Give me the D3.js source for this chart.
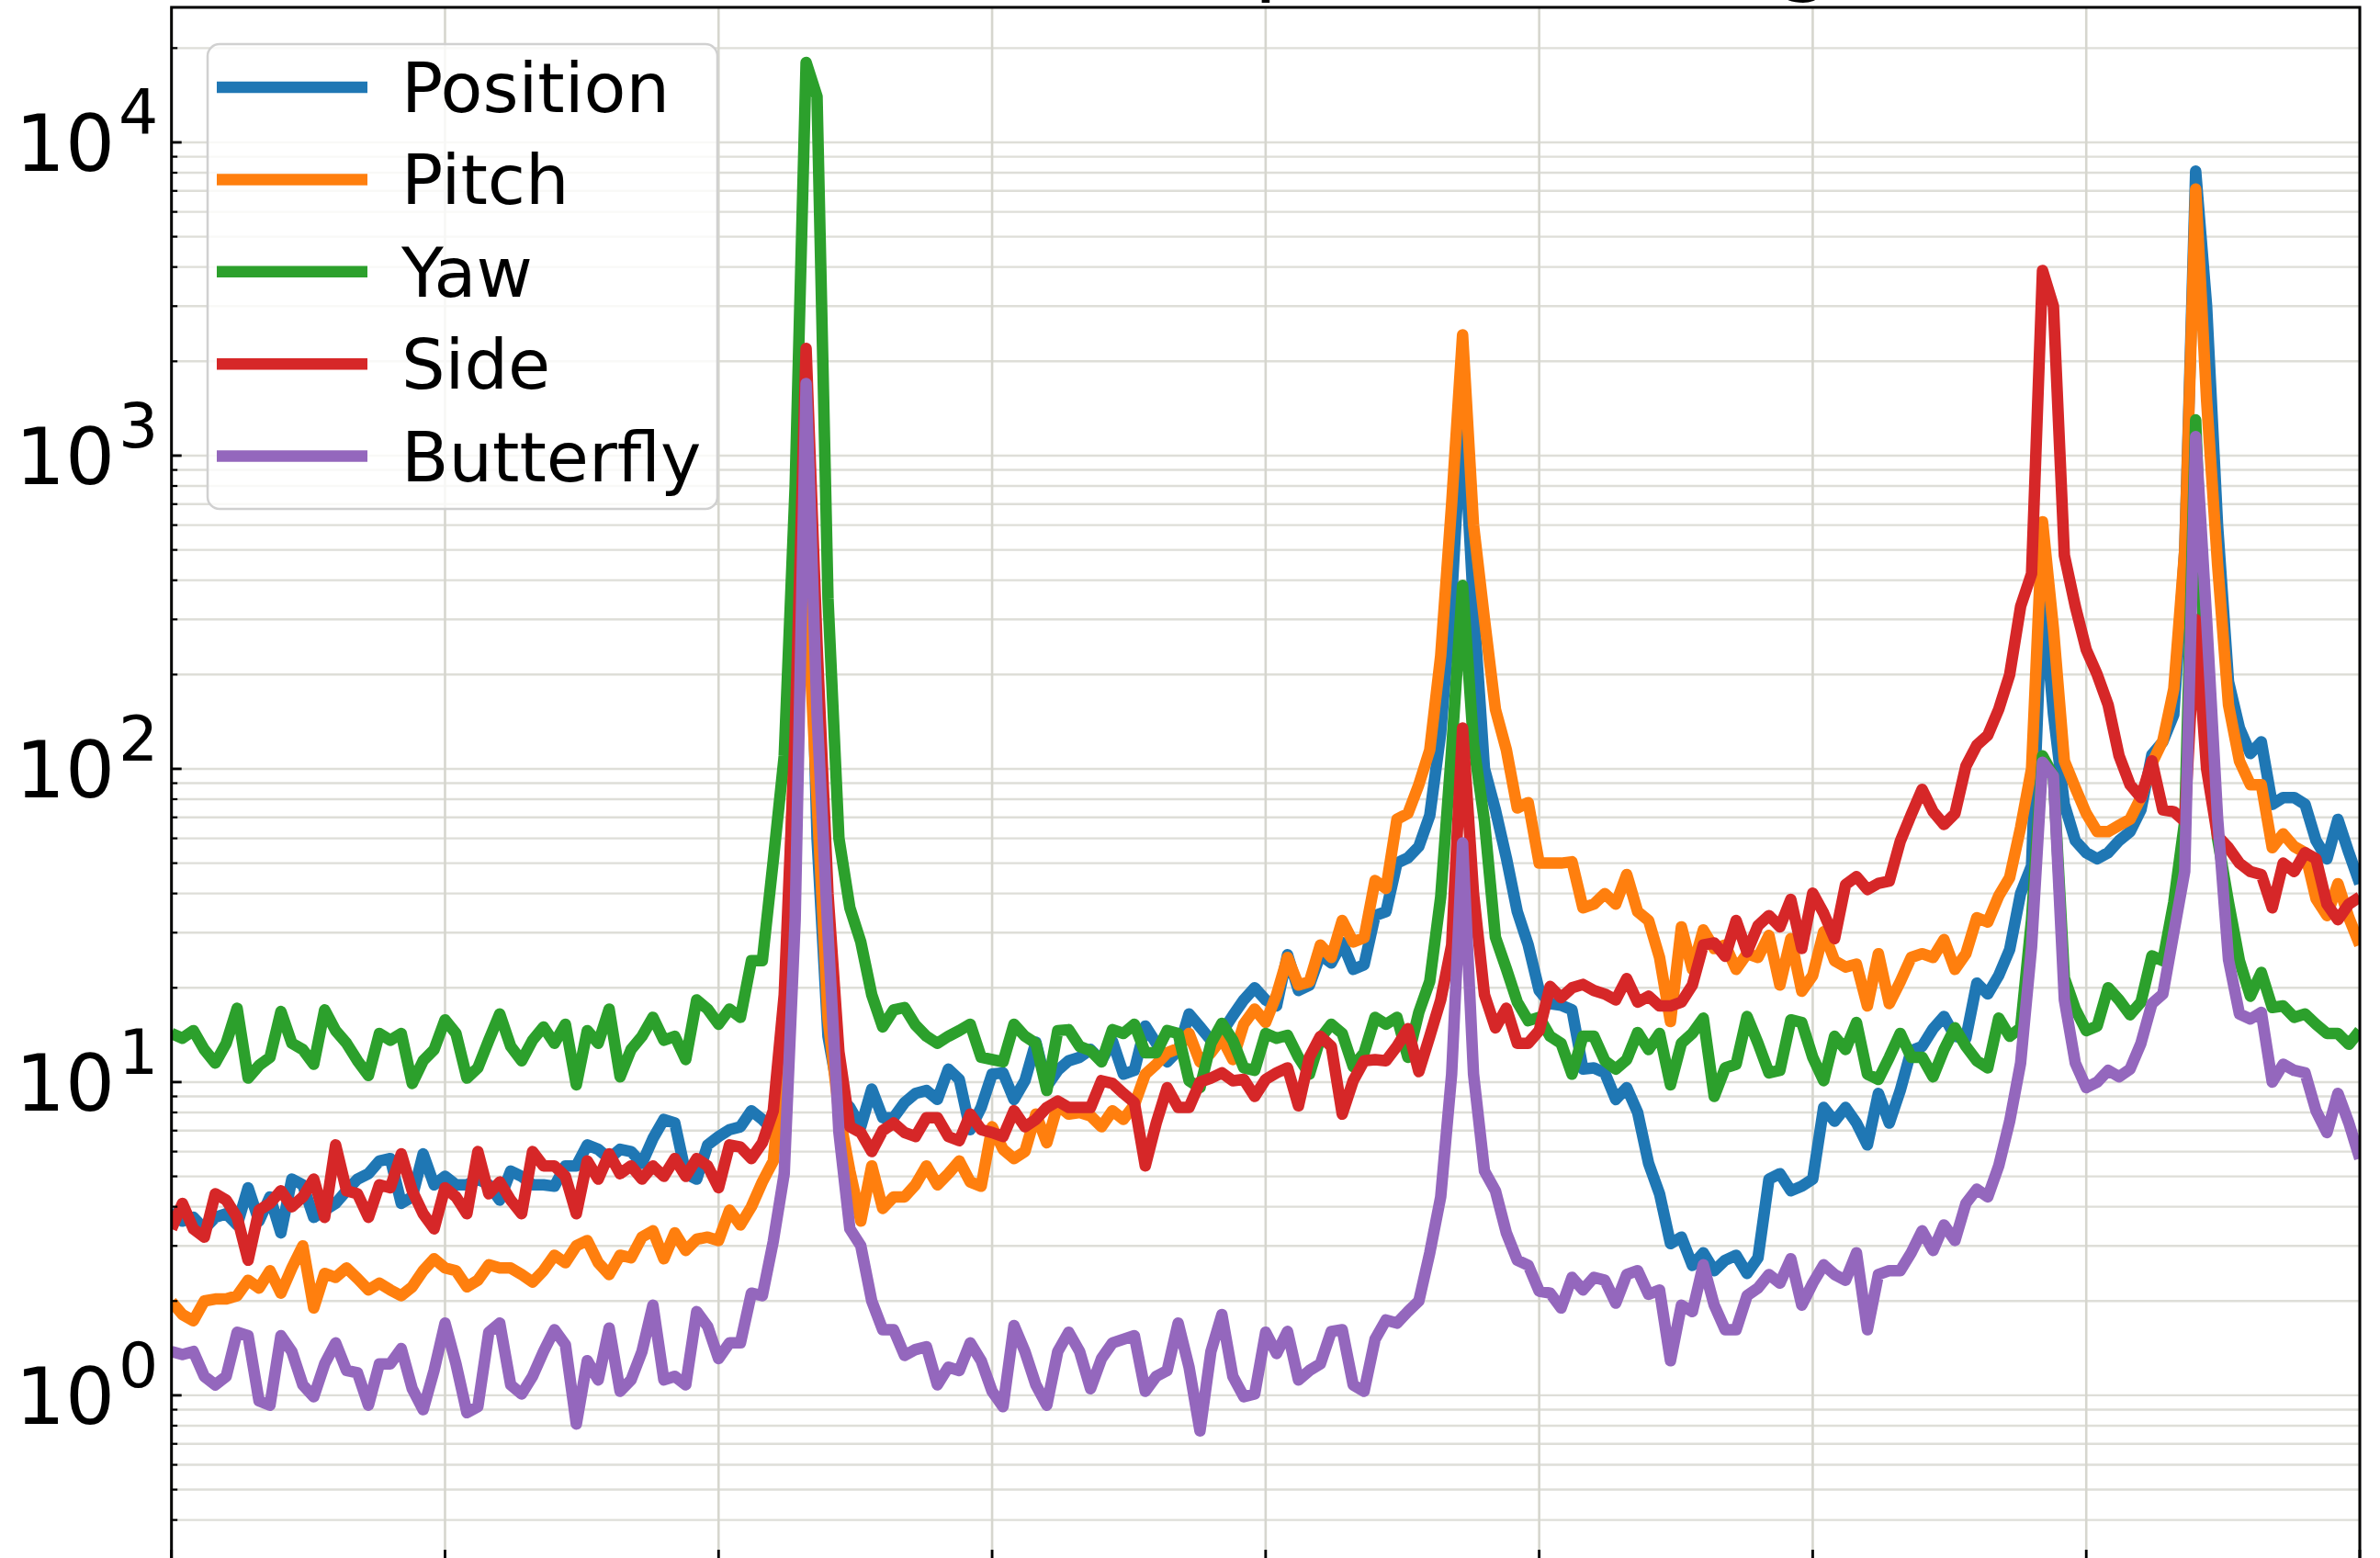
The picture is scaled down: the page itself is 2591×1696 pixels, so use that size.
<!DOCTYPE html>
<html>
<head>
<meta charset="utf-8">
<script src="https://cdn.jsdelivr.net/npm/d3@7"></script>
<style>
  body { margin: 0; background: #fff; }
  svg { display: block; font-family: "DejaVu Sans", sans-serif; }
</style>
</head>
<body>
<div id="chart"></div>
<script>
{
// ---- data (one value per frequency bin, 0..200) ----
const seriesNames = ["Position", "Pitch", "Yaw", "Side", "Butterfly"];
const seriesColors = ["#1f77b4", "#ff7f0e", "#2ca02c", "#d62728", "#9467bd"];

const positionVals = [
  3.9, 3.6, 3.7, 3.4, 3.7, 3.8, 3.5, 4.6, 3.6, 4.3,
  3.3, 4.9, 4.7, 3.7, 3.9, 4.1, 4.5, 4.9, 5.1, 5.6,
  5.7, 4.1, 4.3, 5.9, 4.7, 5.0, 4.7, 4.7, 4.9, 4.7,
  4.2, 5.2, 5.0, 4.7, 4.7, 4.65, 5.4, 5.4, 6.3, 6.1,
  5.7, 6.1, 6.0, 5.5, 6.6, 7.6, 7.4, 5.1, 4.9, 6.3,
  6.7, 7.05, 7.2, 8.1, 7.6, 7.0, 14, 80, 1200, 60,
  14, 9, 8.3, 7.2, 9.5, 7.7, 7.7, 8.6, 9.2, 9.4,
  8.8, 11, 10.2, 7.05, 8.3, 10.6, 10.7, 8.8, 10.1, 13.4,
  9.7, 10.9, 11.7, 12, 12.7, 11.7, 13.5, 10.6, 10.9, 15.1,
  13.3, 11.6, 12.6, 16.5, 15, 13.6, 14.4, 16.3, 18.3, 20,
  18.3, 17.5, 25.5, 19.6, 20.4, 25.5, 24, 27.9, 22.9, 23.7,
  34, 35, 50, 52, 56.5, 71, 130, 350, 1450, 330,
  100, 74, 52, 35, 27.4, 19.6, 17.8, 17.6, 17, 11,
  11.1, 10.7, 8.8, 9.6, 8.0, 5.5, 4.4, 3.05, 3.2, 2.6,
  2.85, 2.5, 2.7, 2.8, 2.45, 2.75, 4.9, 5.1, 4.5, 4.65,
  4.9, 8.3, 7.5, 8.3, 7.4, 6.3, 9.2, 7.4, 9.4, 12.6,
  13, 14.8, 16.2, 14, 13.8, 20.7, 19.1, 21.9, 26.5, 40,
  49, 380, 150, 77, 59, 54, 51.6, 54, 59, 63,
  74, 111, 122, 149, 500, 8100, 3000, 600, 190, 135,
  112, 122, 77, 81, 81, 77, 59, 51.6, 69, 54,
  43
];

const pitchVals = [
  1.99, 1.81, 1.73, 2.0, 2.03, 2.03, 2.08, 2.33, 2.2, 2.5,
  2.12, 2.55, 3.0, 1.9, 2.45, 2.38, 2.55, 2.36, 2.17, 2.28,
  2.17, 2.08, 2.22, 2.5, 2.73, 2.55, 2.5, 2.22, 2.33, 2.61,
  2.55, 2.55, 2.43, 2.3, 2.5, 2.8, 2.65, 3.0, 3.12, 2.65,
  2.43, 2.8, 2.75, 3.2, 3.35, 2.73, 3.3, 2.9, 3.15, 3.2,
  3.12, 3.9, 3.5, 4.0, 4.8, 5.6, 13, 150, 400, 80,
  16, 8, 5.2, 3.6, 5.4, 3.95, 4.3, 4.3, 4.7, 5.4,
  4.7, 5.1, 5.6, 4.8, 4.65, 7.2, 6.1, 5.7, 6.0, 7.9,
  6.4, 8.45, 7.9, 8.0, 7.8, 7.2, 8.1, 7.6, 8.45, 10.6,
  11.4, 12.4, 12.8, 14.3, 11.6, 12.4, 13.8, 11.8, 15.3, 17.1,
  15.5, 19, 25, 20.4, 20.9, 27.4, 25, 32.8, 28, 28.9,
  44, 41.5, 69, 72, 89, 115, 230, 700, 2430, 600,
  300, 155, 115, 75, 78, 50, 50, 50, 50.5, 36,
  37, 40, 37, 46, 35, 32.8, 25, 15.6, 31.3, 22.9,
  30.6, 26.7, 27.4, 22.9, 25.7, 25, 29.4, 20.4, 28.7, 19.5,
  21.9, 30.2, 24.4, 23.3, 23.8, 17.5, 25.7, 17.8, 20.9, 25,
  25.7, 25, 28.5, 22.9, 25.7, 33.5, 32.4, 39.3, 45, 65,
  100, 615, 280, 106, 87, 72, 63, 63, 66, 69,
  81, 104, 123, 180, 500, 7100, 1500, 450, 160, 106,
  89, 89, 56, 62, 56.5, 54, 38.5, 34, 43, 33.5,
  27.4
];

const yawVals = [
  14.3, 13.8, 14.6, 12.7, 11.5, 13.3, 17.2, 10.3, 11.3, 12,
  16.8, 13.3, 12.7, 11.4, 17, 14.6, 13.3, 11.7, 10.5, 14.3,
  13.6, 14.3, 9.9, 11.7, 12.7, 15.8, 14.3, 10.3, 11.1, 13.6,
  16.5, 13, 11.7, 13.6, 15, 13.3, 15.3, 9.8, 14.6, 13.3,
  17.1, 10.4, 12.7, 14, 16.1, 13.6, 14, 11.8, 18.3, 17.1,
  15.3, 17.1, 16.1, 24.4, 24.4, 51, 110, 800, 18000, 14000,
  350, 60, 36, 28, 19, 15, 17, 17.3, 15.2, 14,
  13.3, 14, 14.6, 15.3, 12, 11.8, 11.6, 15.3, 14, 13.3,
  9.4, 14.6, 14.7, 13, 12.6, 11.6, 14.7, 14.3, 15.3, 12.4,
  12.4, 14.6, 14.3, 10.1, 9.6, 13.3, 15.4, 13.6, 11.1, 10.9,
  14.3, 13.8, 14.1, 12, 10.6, 13.8, 15.3, 14.3, 11.2, 12.4,
  16.1, 15.3, 16.1, 12, 16.7, 21, 39, 115, 385, 120,
  68, 29, 23, 18, 15.7, 16.1, 14, 13.3, 10.6, 14,
  14, 11.7, 11, 11.8, 14.4, 12.7, 14.3, 9.8, 13.3, 14.3,
  16, 9.0, 11.1, 11.4, 16.2, 13.3, 10.7, 10.9, 15.8, 15.5,
  12, 10.1, 14, 12.7, 15.5, 10.6, 10.2, 12, 14.3, 12,
  12, 10.4, 12.7, 14.9, 13, 11.7, 11.1, 16, 14, 14.9,
  33, 110, 95, 21.5, 17.1, 14.6, 15.1, 20, 18.3, 16.4,
  18, 25.3, 24.4, 37.5, 68, 1300, 150, 60, 37.5, 24.4,
  18.8, 22.4, 17.3, 17.5, 16.1, 16.5, 15.3, 14.3, 14.3, 13.2,
  14.6
];

const sideVals = [
  3.4, 4.1, 3.4, 3.2, 4.4, 4.2, 3.7, 2.7, 3.9, 4.1,
  4.5, 4.0, 4.3, 4.9, 3.7, 6.3, 4.5, 4.4, 3.7, 4.7,
  4.6, 5.9, 4.5, 3.8, 3.4, 4.6, 4.3, 3.8, 6.0, 4.4,
  4.8, 4.2, 3.8, 6.0, 5.4, 5.4, 5.0, 3.8, 5.6, 4.9,
  5.9, 5.1, 5.4, 4.9, 5.4, 5.0, 5.7, 5.0, 5.7, 5.4,
  4.6, 6.3, 6.2, 5.7, 6.4, 8.1, 19, 130, 2200, 250,
  40, 12.5, 7.2, 6.9, 6.0, 7.0, 7.4, 6.9, 6.7, 7.7,
  7.7, 6.7, 6.5, 7.9, 7.05, 6.9, 6.7, 8.1, 7.2, 7.6,
  8.3, 8.7, 8.3, 8.3, 8.3, 10.1, 9.9, 9.2, 8.6, 5.4,
  7.4, 9.6, 8.3, 8.3, 10, 10.3, 10.7, 10.1, 10.2, 9.0,
  10.2, 10.7, 11.1, 8.4, 12, 14, 13, 7.9, 10.1, 11.7,
  11.8, 11.7, 13, 14.8, 10.8, 14, 18.3, 27.4, 135, 40,
  19, 14.9, 17.2, 13.3, 13.3, 14.6, 20.2, 18.6, 20, 20.5,
  19.6, 19.1, 18.3, 21.4, 18, 18.8, 17.5, 17.5, 18, 20.4,
  27.4, 27.8, 25.2, 32.8, 26, 31.6, 34, 31.3, 38.3, 26.7,
  40.1, 34.6, 28.7, 42.7, 45.3, 41.2, 43.1, 43.8, 58.7, 71.4,
  86, 73, 66.4, 72, 102, 119, 128, 155, 200, 330,
  420, 3900, 3000, 480, 330, 240, 200, 160, 110, 89,
  81, 106, 74, 73, 68, 300, 100, 61, 56, 50,
  47, 46, 36, 50, 47, 54, 51.6, 37, 33, 37,
  39
];

const butterflyVals = [
  1.38, 1.35, 1.38, 1.15, 1.08, 1.15, 1.59, 1.55, 0.96, 0.93,
  1.55, 1.38, 1.08, 0.99, 1.26, 1.47, 1.2, 1.18, 0.93, 1.26,
  1.26, 1.41, 1.05, 0.9, 1.2, 1.7, 1.26, 0.88, 0.92, 1.59,
  1.7, 1.08, 1.01, 1.15, 1.38, 1.62, 1.45, 0.81, 1.29, 1.12,
  1.64, 1.03, 1.12, 1.38, 1.94, 1.12, 1.15, 1.08, 1.85, 1.66,
  1.31, 1.47, 1.47, 2.12, 2.08, 3.1, 5.1, 33, 1700, 150,
  30, 6.9, 3.4, 3.0, 2.0, 1.62, 1.62, 1.34, 1.4, 1.43,
  1.08, 1.23, 1.2, 1.47, 1.29, 1.03, 0.92, 1.67, 1.38, 1.08,
  0.93, 1.38, 1.59, 1.38, 1.05, 1.31, 1.47, 1.51, 1.55, 1.03,
  1.15, 1.2, 1.7, 1.23, 0.77, 1.38, 1.81, 1.15, 0.99, 1.01,
  1.59, 1.36, 1.6, 1.12, 1.2, 1.26, 1.6, 1.62, 1.08, 1.03,
  1.51, 1.74, 1.7, 1.85, 2.0, 2.85, 4.3, 10.6, 58, 10.6,
  5.2, 4.5, 3.3, 2.7, 2.6, 2.15, 2.12, 1.9, 2.38, 2.17,
  2.38, 2.33, 1.97, 2.43, 2.5, 2.1, 2.17, 1.29, 1.94, 1.85,
  2.61, 1.94, 1.62, 1.62, 2.08, 2.2, 2.43, 2.28, 2.73, 1.94,
  2.28, 2.61, 2.43, 2.33, 2.85, 1.62, 2.43, 2.5, 2.5, 2.85,
  3.35, 2.9, 3.5, 3.12, 4.1, 4.55, 4.3, 5.4, 7.5, 11.5,
  27, 105, 95, 18.3, 11.5, 9.6, 10, 10.9, 10.4, 11,
  13.3, 17.8, 19.1, 30, 47, 1150, 300, 70, 24.6, 16.5,
  15.9, 16.7, 10, 11.4, 10.9, 10.7, 8.1, 6.9, 9.2, 7.4,
  5.7
];

const xTicks = [0, 25, 50, 75, 100, 125, 150, 175, 200];
const yTickExps = [0, 1, 2, 3, 4];
const titleText = "Modal Power Spectrum Magnitude";

// ---- layout ----
const W = 2591, H = 1696;
const left = 186.7, right = 2569, top = 8, bottom = 1700;
const lineW = 12.5;

const svg = d3.select("#chart")
  .append("svg")
  .attr("width", W)
  .attr("height", H);

svg.append("rect").attr("width", W).attr("height", H).attr("fill", "#fff");

const x = d3.scaleLinear().domain([0, 200]).range([left, right]);
const y = d3.scaleLog().domain([0.2944, 26980]).range([bottom, top]);

// title sits above the canvas, as in the source only its descenders show
svg.append("text")
  .attr("x", 672)
  .attr("y", -17)
  .attr("font-size", 95)
  .attr("fill", "#000")
  .text(titleText);

// grid
svg.append("g")
  .selectAll("line")
  .data(y.ticks())
  .join("line")
    .attr("x1", left).attr("x2", right)
    .attr("y1", d => y(d)).attr("y2", d => y(d))
    .attr("stroke", "#deded8")
    .attr("stroke-width", 2.4);

svg.append("g")
  .selectAll("line")
  .data(xTicks)
  .join("line")
    .attr("x1", d => x(d)).attr("x2", d => x(d))
    .attr("y1", top).attr("y2", bottom)
    .attr("stroke", "#d6d6ce")
    .attr("stroke-width", 2.6);

// lines
svg.append("clipPath").attr("id", "plotclip")
  .append("rect")
  .attr("x", left).attr("y", top)
  .attr("width", right - left).attr("height", bottom - top);

const allSeries = [positionVals, pitchVals, yawVals, sideVals, butterflyVals];

const line = d3.line()
  .x((d, i) => x(i))
  .y(d => y(d));

svg.append("g")
  .attr("clip-path", "url(#plotclip)")
  .selectAll("path")
  .data(allSeries)
  .join("path")
    .attr("d", d => line(d))
    .attr("fill", "none")
    .attr("stroke", (d, i) => seriesColors[i])
    .attr("stroke-width", lineW)
    .attr("stroke-linejoin", "round")
    .attr("stroke-linecap", "butt");

// ticks (inward)
const isMajor = d => Math.abs(Math.log10(d) - Math.round(Math.log10(d))) < 1e-9;

svg.append("g")
  .selectAll("line")
  .data(y.ticks())
  .join("line")
    .attr("x1", left)
    .attr("x2", d => left + (isMajor(d) ? 11 : 6.5))
    .attr("y1", d => y(d)).attr("y2", d => y(d))
    .attr("stroke", "#000")
    .attr("stroke-width", d => isMajor(d) ? 2.8 : 2.2);

svg.append("g")
  .selectAll("line")
  .data(xTicks)
  .join("line")
    .attr("x1", d => x(d)).attr("x2", d => x(d))
    .attr("y1", bottom).attr("y2", bottom - 13)
    .attr("stroke", "#000")
    .attr("stroke-width", 2.8);

// frame
svg.append("rect")
  .attr("x", left).attr("y", top)
  .attr("width", right - left).attr("height", bottom - top)
  .attr("fill", "none")
  .attr("stroke", "#000")
  .attr("stroke-width", 3);

// y tick labels: 10 with superscript exponent
const yLab = svg.append("g")
  .selectAll("g")
  .data(yTickExps)
  .join("g")
    .attr("transform", d => `translate(0, ${y(Math.pow(10, d))})`);

yLab.append("text")
  .attr("x", 125)
  .attr("y", 31)
  .attr("text-anchor", "end")
  .attr("font-size", 85)
  .text("10");

yLab.append("text")
  .attr("x", 129)
  .attr("y", -9)
  .attr("font-size", 68)
  .text(d => d);

// legend
const legend = svg.append("g");

legend.append("rect")
  .attr("x", 226).attr("y", 48)
  .attr("width", 555).attr("height", 506)
  .attr("rx", 13)
  .attr("fill", "#fff")
  .attr("fill-opacity", 0.8)
  .attr("stroke", "#d0d0d0")
  .attr("stroke-width", 2.5);

const rows = legend.selectAll("g.row")
  .data(seriesNames)
  .join("g")
    .attr("class", "row")
    .attr("transform", (d, i) => `translate(0, ${95 + i * 100.4})`);

rows.append("line")
  .attr("x1", 236).attr("x2", 400)
  .attr("stroke", (d, i) => seriesColors[i])
  .attr("stroke-width", lineW);

rows.append("text")
  .attr("x", 437)
  .attr("y", 27)
  .attr("font-size", 75)
  .text(d => d);
}
</script>
</body>
</html>
